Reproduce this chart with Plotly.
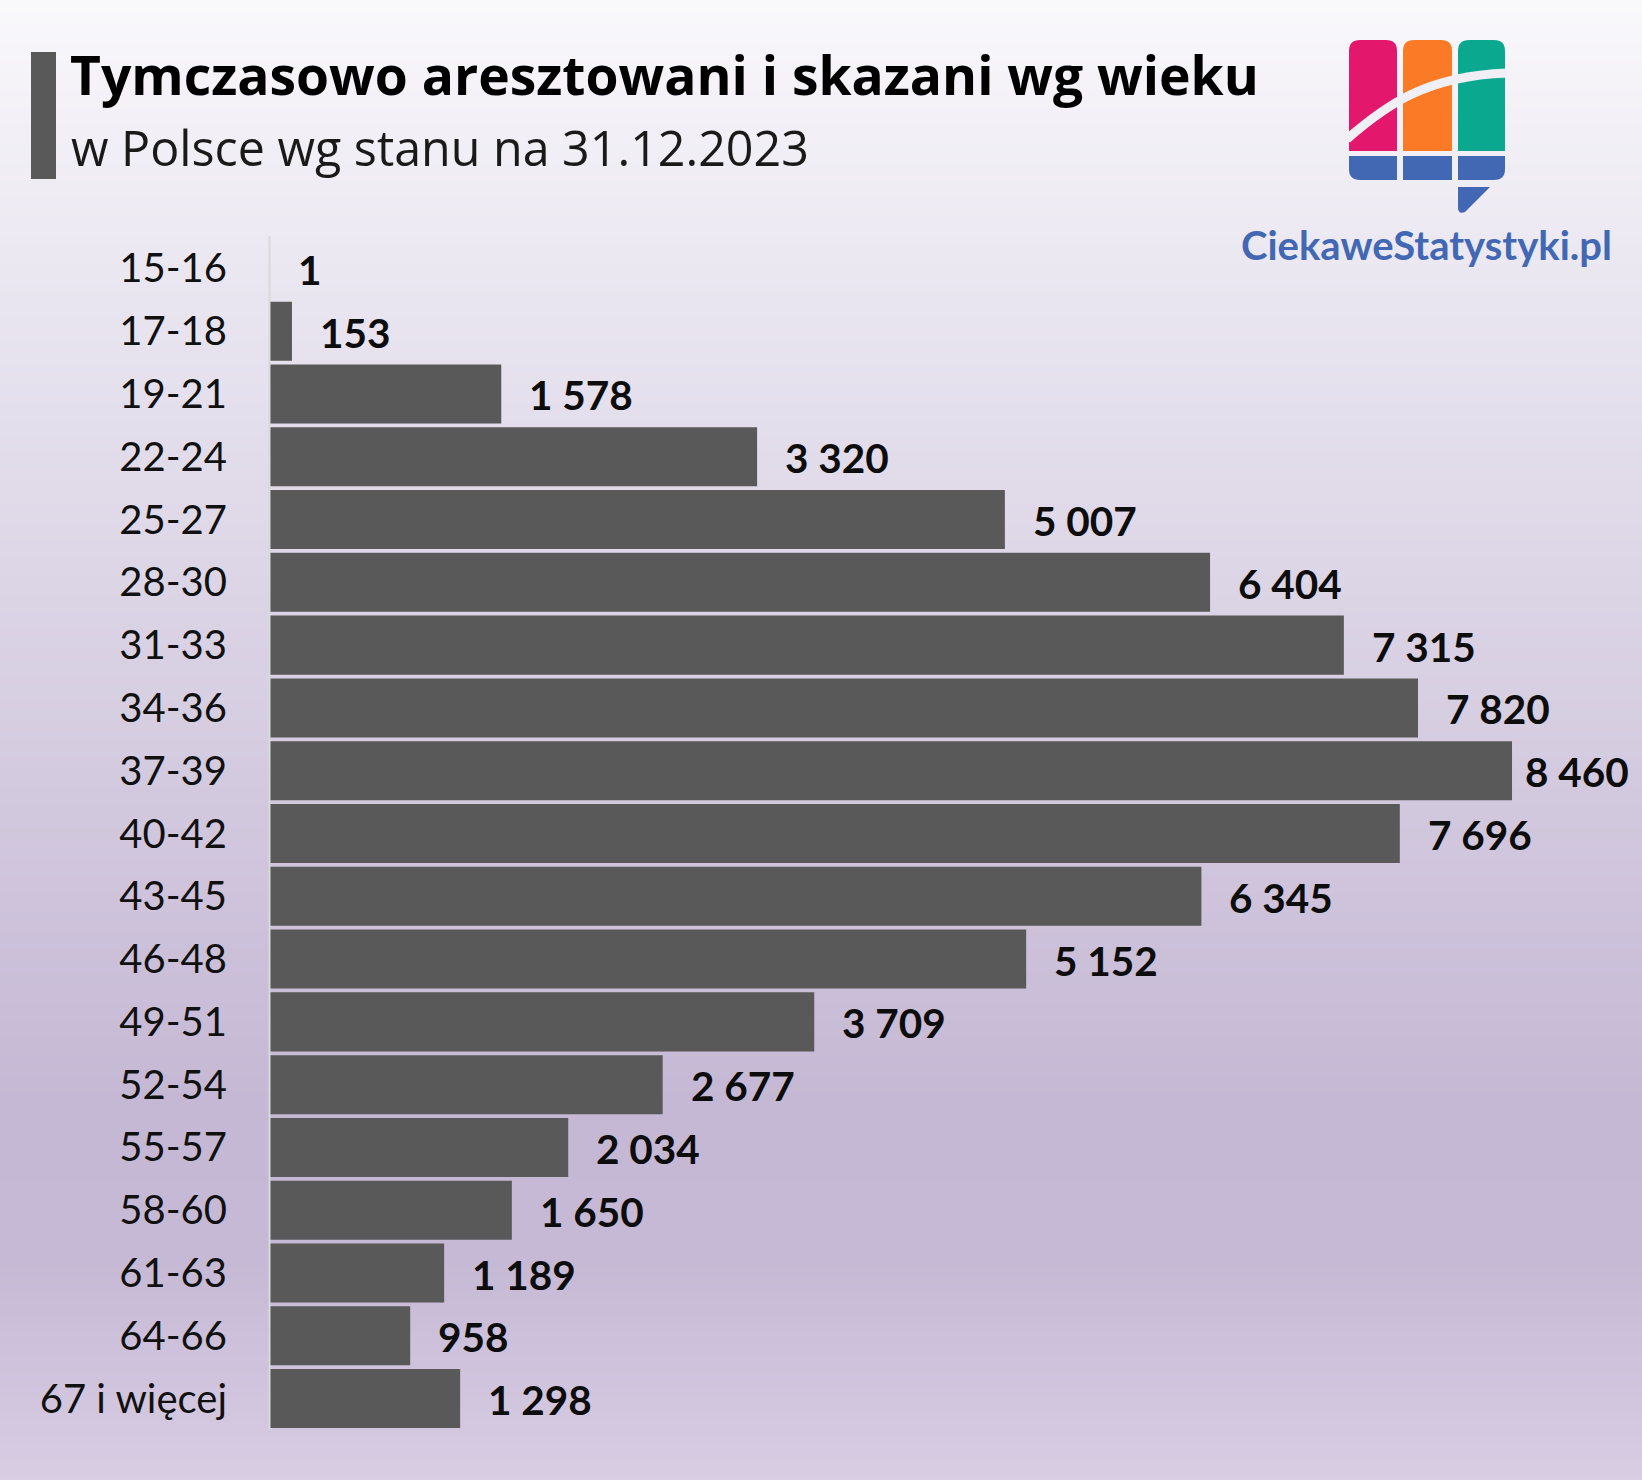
import plotly.graph_objects as go

categories = ["15-16","17-18","19-21","22-24","25-27","28-30","31-33","34-36","37-39","40-42",
              "43-45","46-48","49-51","52-54","55-57","58-60","61-63","64-66","67 i więcej"]
values = [1,153,1578,3320,5007,6404,7315,7820,8460,7696,6345,5152,3709,2677,2034,1650,1189,958,1298]
value_labels = ["1","153","1 578","3 320","5 007","6 404","7 315","7 820","8 460","7 696",
                "6 345","5 152","3 709","2 677","2 034","1 650","1 189","958","1 298"]
title = "Tymczasowo aresztowani i skazani wg wieku"
subtitle = "w Polsce wg stanu na 31.12.2023"
logo_text = "CiekaweStatystyki.pl"

W, H = 1642, 1480
ML, MR, MT, MB = 269, 0, 237, 50
GREY = "#595959"
BLUE = "#4268b4"
X_SCALE = 0.14687      # pixels per unit on the value axis
ZERO_PX = 269.5        # value 0 sits under the thin axis line
gradient_stops = [(0,(249,248,251)),(300,(233,229,240)),(600,(219,212,229)),(900,(206,195,219)),
                  (1100,(197,184,212)),(1260,(197,185,213)),(1480,(217,205,228))]

def px(x): return (x-ML)/(W-ML-MR)
def py(y): return (H-MB-y)/(H-MT-MB)

def grad(y):
    for (y0,c0),(y1,c1) in zip(gradient_stops, gradient_stops[1:]):
        if y <= y1:
            t=(y-y0)/(y1-y0)
            return "rgb(%d,%d,%d)"%tuple(round(a+(b-a)*t) for a,b in zip(c0,c1))
    return "rgb(%d,%d,%d)"%gradient_stops[-1][1]

shapes=[]
def rect_path(x0,y0,x1,y1,rtl=0,rtr=0,rbr=0,rbl=0):
    return (f"M{px(x0+rtl)},{py(y0)} L{px(x1-rtr)},{py(y0)} Q{px(x1)},{py(y0)} {px(x1)},{py(y0+rtr)} "
            f"L{px(x1)},{py(y1-rbr)} Q{px(x1)},{py(y1)} {px(x1-rbr)},{py(y1)} "
            f"L{px(x0+rbl)},{py(y1)} Q{px(x0)},{py(y1)} {px(x0)},{py(y1-rbl)} "
            f"L{px(x0)},{py(y0+rtl)} Q{px(x0)},{py(y0)} {px(x0+rtl)},{py(y0)} Z")
def add_path(path,fill,layer="above",line=None):
    s=dict(type="path",xref="paper",yref="paper",path=path,fillcolor=fill,layer=layer,line=dict(width=0))
    if line: s.update(fillcolor="rgba(0,0,0,0)",line=line)
    shapes.append(s)

# page background gradient
for y in range(0,H,6):
    shapes.append(dict(type="rect",xref="paper",yref="paper",x0=px(0),x1=px(W),y0=py(y),y1=py(H),
                       fillcolor=grad(y),line=dict(width=0),layer="below"))
# title accent block and value-axis line
shapes.append(dict(type="rect",xref="paper",yref="paper",x0=px(31),x1=px(56),y0=py(52),y1=py(179),
                   fillcolor=GREY,line=dict(width=0)))
shapes.append(dict(type="line",xref="paper",yref="paper",x0=px(269.5),x1=px(269.5),y0=py(236),y1=py(1430),
                   line=dict(color="#d9d9d9",width=2)))
# logo
add_path(rect_path(1349,40,1397,151,rtl=11,rtr=11),"#e3176b")
add_path(rect_path(1403,40,1452,151,rtl=11,rtr=11),"#fb7a25")
add_path(rect_path(1458,40,1505,151,rtl=11,rtr=11),"#0aa98f")
add_path(rect_path(1349,156,1397,180,rbl=11),BLUE)
add_path(rect_path(1403,156,1452,180),BLUE)
add_path(rect_path(1458,156,1505,180,rbr=11),BLUE)
add_path(f"M{px(1458)},{py(187)} L{px(1490)},{py(187)} L{px(1465)},{py(212)} Q{px(1458)},{py(215)} {px(1458)},{py(207)} Z",BLUE)
add_path(f"M{px(1347)},{py(139)} C{px(1385)},{py(106)} {px(1425)},{py(76)} {px(1507)},{py(73)}","rgba(0,0,0,0)",
         line=dict(color="#f0eff5",width=9))

annotations=[]
for i,(c,v,t) in enumerate(zip(categories,values,value_labels)):
    annotations.append(dict(x=v,y=c,xref="x",yref="y",text=f"<b>{t}</b>",showarrow=False,xanchor="left",
                            xshift=11 if v==max(values) else 26,yshift=-1,
                            font=dict(family="Lato",size=40.5,color="#0d0d0d")))
annotations.append(dict(x=px(69),y=py(147),xref="paper",yref="paper",text=subtitle,showarrow=False,xanchor="left",yanchor="middle",
                        font=dict(family="Open Sans",size=48.4,color="#1a1a1a")))
annotations.append(dict(x=px(1239),y=py(245),xref="paper",yref="paper",text=f"<b>{logo_text}</b>",showarrow=False,xanchor="left",yanchor="middle",
                        font=dict(family="Lato",size=40,color=BLUE)))

fig=go.Figure(go.Bar(x=values,y=categories,orientation="h",marker=dict(color=GREY,line=dict(width=0)),width=0.94,
                     hoverinfo="x+y"))
fig.update_layout(
    width=W,height=H,margin=dict(l=ML,r=MR,t=MT,b=MB,pad=0),
    paper_bgcolor="#f0eef4",plot_bgcolor="rgba(0,0,0,0)",showlegend=False,
    title=dict(text=f"<b>{title}</b>",x=70/W,xanchor="left",xref="container",y=1-76/H,yanchor="middle",
               font=dict(family="Open Sans",size=53.4,color="#000000")),
    xaxis=dict(range=[(ML-ZERO_PX)/X_SCALE,(W-ZERO_PX)/X_SCALE],visible=False,fixedrange=True),
    yaxis=dict(autorange="reversed",type="category",showline=False,showgrid=False,ticks="",ticklabelstandoff=41,
               tickfont=dict(family="Lato",size=40,color="#111111"),fixedrange=True,automargin=False),
    shapes=shapes,annotations=annotations,bargap=0.06,
)
fig.write_html("out.html",config={"displayModeBar":False},
               post_script="document.body.style.margin='0';document.documentElement.style.overflow='hidden';")
